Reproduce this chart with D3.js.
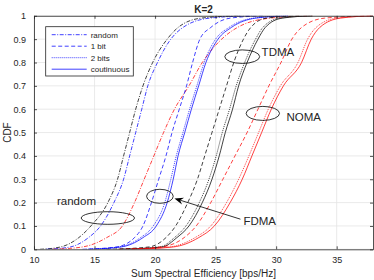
<!DOCTYPE html>
<html>
<head>
<meta charset="utf-8">
<script src="https://cdn.jsdelivr.net/npm/d3@7"></script>
<style>
  body { margin: 0; background: #fff; }
  text { font-family: "Liberation Sans", Arial, sans-serif; fill: #262626; }
</style>
</head>
<body>
<div id="chart"></div>
<script>
'use strict';

// cdf levels shared by all curves
var levels = [0, 0.01, 0.05, 0.1, 0.2, 0.3, 0.4, 0.5, 0.6, 0.7, 0.8, 0.9, 0.95, 0.99, 1];

// sum spectral efficiency (bps/Hz) reached at each level
var tdmaRandom = [10.5, 12.2, 13.7, 14.7, 16.1, 16.9, 17.4, 17.9, 18.4, 19.0, 19.8, 21.0, 21.9, 23.8, 27];
var fdmaRandom = [11, 13.0, 14.5, 15.5, 16.6, 17.4, 17.9, 18.4, 18.9, 19.4, 20.2, 21.3, 22.3, 24.5, 28];
var nomaRandom = [11.5, 14.0, 16.0, 17.3, 18.3, 19.1, 19.9, 20.7, 21.6, 22.8, 23.9, 25.5, 26.8, 29.5, 33];

var fdma1bit = [14, 16.8, 18.3, 19.0, 19.7, 20.3, 20.9, 21.4, 22.0, 22.6, 23.1, 23.7, 24.6, 26.2, 29];
var fdma2bit = [14.3, 17.0, 18.8, 19.85, 20.8, 21.3, 21.75, 22.3, 22.85, 23.45, 24.05, 25.0, 26.1, 28.1, 31];
var fdmaCont = [14.5, 17.2, 19.0, 20.1, 21.0, 21.5, 21.9, 22.45, 23.0, 23.6, 24.2, 25.2, 26.3, 28.3, 31];

var tdma1bit = [16, 19.5, 20.9, 21.7, 22.7, 23.5, 24.1, 24.7, 25.3, 25.9, 26.5, 27.3, 27.9, 29.2, 32];
var tdma2bit = [16.8, 20.4, 21.6, 22.55, 23.65, 24.45, 25.05, 25.55, 26.15, 26.7, 27.4, 28.3, 28.9, 30.3, 33];
var tdmaCont = [17, 20.6, 21.8, 22.8, 23.9, 24.7, 25.3, 25.8, 26.4, 26.9, 27.6, 28.5, 29.1, 30.5, 33];

var noma1bit = [17, 20.5, 22.4, 23.4, 24.6, 25.6, 26.6, 27.6, 28.5, 29.4, 30.4, 31.3, 32.1, 34.0, 38];
var noma2bit = [17.8, 21.2, 23.3, 24.6, 25.9, 26.9, 27.75, 28.55, 29.35, 30.35, 31.8, 32.6, 33.3, 35.0, 38];
var nomaCont = [18, 21.5, 23.6, 24.9, 26.2, 27.2, 28.0, 28.8, 29.6, 30.6, 32.1, 32.9, 33.6, 35.3, 38];

var xTicks = [10, 15, 20, 25, 30, 35];
var yTicks = [0, 0.1, 0.2, 0.3, 0.4, 0.5, 0.6, 0.7, 0.8, 0.9, 1];
var legendLabels = ['random', '1 bit', '2 bits', 'coutinuous'];

// annotations in data units: ellipse centre, radii; label anchor
var ellipses = [
  { x: 16.1, p: 0.134, rx: 2.2, rp: 0.027 },
  { x: 20.4, p: 0.227, rx: 1.1, rp: 0.03 },
  { x: 27.2, p: 0.825, rx: 1.44, rp: 0.029 },
  { x: 28.9, p: 0.582, rx: 1.38, rp: 0.03 }
];
var labels = [
  { text: 'random', x: 11.9, p: 0.19 },
  { text: 'TDMA', x: 28.8, p: 0.826 },
  { text: 'NOMA', x: 30.85, p: 0.548 },
  { text: 'FDMA', x: 27.3, p: 0.104 }
];
var arrowFrom = { x: 27.05, p: 0.129 };
var arrowTo = { x: 21.6, p: 0.218 };

var dashes = {
  random: '4,1.5,1,1.5',
  bit1: '4,2.5',
  bit2: '1,1',
  cont: null
};

var curves = [
  { v: tdmaRandom, color: '#000', dash: dashes.random },
  { v: fdmaRandom, color: '#0000ff', dash: dashes.random },
  { v: nomaRandom, color: '#ff0000', dash: dashes.random },
  { v: fdma1bit, color: '#0000ff', dash: dashes.bit1 },
  { v: fdma2bit, color: '#0000ff', dash: dashes.bit2 },
  { v: fdmaCont, color: '#0000ff', dash: dashes.cont },
  { v: tdma1bit, color: '#000', dash: dashes.bit1 },
  { v: tdma2bit, color: '#000', dash: dashes.bit2 },
  { v: tdmaCont, color: '#000', dash: dashes.cont },
  { v: noma1bit, color: '#ff0000', dash: dashes.bit1 },
  { v: noma2bit, color: '#ff0000', dash: dashes.bit2 },
  { v: nomaCont, color: '#ff0000', dash: dashes.cont }
];

var W = 374, H = 280;
var plot = { left: 34, right: 373, top: 15.8, bottom: 249.3 };

var x = d3.scaleLinear().domain([10, 38]).range([plot.left, plot.right]);
var y = d3.scaleLinear().domain([0, 1]).range([plot.bottom, plot.top]);

var svg = d3.select('#chart').append('svg')
    .attr('width', W)
    .attr('height', H);

svg.append('clipPath').attr('id', 'clip')
  .append('rect')
    .attr('x', plot.left)
    .attr('y', plot.top)
    .attr('width', plot.right - plot.left)
    .attr('height', plot.bottom - plot.top);

// grid
var grid = svg.append('g').attr('stroke', '#e4e4e4').attr('stroke-width', 0.8);
grid.selectAll('.gx').data(xTicks).enter().append('line')
    .attr('x1', function(d) { return x(d); })
    .attr('x2', function(d) { return x(d); })
    .attr('y1', plot.top).attr('y2', plot.bottom);
grid.selectAll('.gy').data(yTicks).enter().append('line')
    .attr('y1', function(d) { return y(d); })
    .attr('y2', function(d) { return y(d); })
    .attr('x1', plot.left).attr('x2', plot.right);

// curves
var line = d3.line()
    .x(function(d) { return x(d[0]); })
    .y(function(d) { return y(d[1]); })
    .curve(d3.curveMonotoneX);

var gCurves = svg.append('g').attr('clip-path', 'url(#clip)');
gCurves.selectAll('path').data(curves).enter().append('path')
    .attr('d', function(c) { return line(c.v.map(function(v, i) { return [v, levels[i]]; })); })
    .attr('fill', 'none')
    .attr('stroke', function(c) { return c.color; })
    .attr('stroke-width', 0.75)
    .attr('stroke-dasharray', function(c) { return c.dash; });

// axes, matlab box style with inward ticks
var axisColor = '#262626';
var gx = svg.append('g')
    .attr('transform', 'translate(0,' + plot.bottom + ')')
    .call(d3.axisBottom(x).tickValues(xTicks).tickSizeInner(-3).tickSizeOuter(0).tickPadding(7));
var gy = svg.append('g')
    .attr('transform', 'translate(' + plot.left + ',0)')
    .call(d3.axisLeft(y).tickValues(yTicks).tickSizeInner(-3).tickSizeOuter(0).tickPadding(8)
      .tickFormat(function(d) { return d === 0 || d === 1 ? d3.format('d')(d) : d3.format('.1f')(d); }));
svg.append('g')
    .attr('transform', 'translate(0,' + plot.top + ')')
    .call(d3.axisTop(x).tickValues(xTicks).tickSizeInner(-3).tickSizeOuter(0).tickFormat(''));
svg.append('g')
    .attr('transform', 'translate(' + plot.right + ',0)')
    .call(d3.axisRight(y).tickValues(yTicks).tickSizeInner(-3).tickSizeOuter(0).tickFormat(''));

svg.selectAll('.domain, .tick line').attr('stroke', axisColor).attr('stroke-width', 0.8);
svg.selectAll('.tick text')
    .style('font-family', '"Liberation Sans", Arial, sans-serif')
    .style('font-size', '9px')
    .attr('fill', axisColor);

// titles
svg.append('text')
    .attr('x', (plot.left + plot.right) / 2).attr('y', 12.5)
    .attr('text-anchor', 'middle')
    .style('font-size', '10px').style('font-weight', 'bold')
    .text('K=2');
svg.append('text')
    .attr('x', (plot.left + plot.right) / 2).attr('y', 277)
    .attr('text-anchor', 'middle')
    .style('font-size', '10px')
    .text('Sum Spectral Efficiency [bps/Hz]');
svg.append('text')
    .attr('transform', 'translate(10.5,' + (plot.top + plot.bottom) / 2 + ') rotate(-90)')
    .attr('text-anchor', 'middle')
    .style('font-size', '10px')
    .text('CDF');

// annotations
var gAnn = svg.append('g');
gAnn.selectAll('ellipse').data(ellipses).enter().append('ellipse')
    .attr('cx', function(d) { return x(d.x); })
    .attr('cy', function(d) { return y(d.p); })
    .attr('rx', function(d) { return x(d.x + d.rx) - x(d.x); })
    .attr('ry', function(d) { return y(0) - y(d.rp); })
    .attr('fill', 'none')
    .attr('stroke', '#000')
    .attr('stroke-width', 0.8);
gAnn.selectAll('text').data(labels).enter().append('text')
    .attr('x', function(d) { return x(d.x); })
    .attr('y', function(d) { return y(d.p); })
    .style('font-size', '11.5px')
    .attr('fill', '#000')
    .text(function(d) { return d.text; });

var ax0 = x(arrowFrom.x), ay0 = y(arrowFrom.p), ax1 = x(arrowTo.x), ay1 = y(arrowTo.p);
var ang = Math.atan2(ay1 - ay0, ax1 - ax0);
var headLen = 9, headW = 3.5, notch = 6;
function pt(along, across) {
  return [ax1 - along * Math.cos(ang) - across * Math.sin(ang),
          ay1 - along * Math.sin(ang) + across * Math.cos(ang)];
}
gAnn.append('line')
    .attr('x1', ax0).attr('y1', ay0)
    .attr('x2', pt(notch, 0)[0]).attr('y2', pt(notch, 0)[1])
    .attr('stroke', '#000').attr('stroke-width', 0.8);
gAnn.append('path')
    .attr('d', 'M' + [pt(0, 0), pt(headLen, headW), pt(notch, 0), pt(headLen, -headW)].join('L') + 'Z')
    .attr('fill', '#000');

// legend
var lg = svg.append('g').attr('transform', 'translate(45.7,26.7)');
lg.append('rect')
    .attr('width', 87.6).attr('height', 49.3)
    .attr('fill', '#fff')
    .attr('stroke', axisColor).attr('stroke-width', 0.8);
var legendDash = [dashes.random, dashes.bit1, dashes.bit2, dashes.cont];
var rows = lg.selectAll('.row').data(legendLabels).enter().append('g')
    .attr('transform', function(d, i) { return 'translate(0,' + (8 + i * 11.5) + ')'; });
rows.append('line')
    .attr('x1', 6).attr('x2', 41)
    .attr('stroke', '#0000ff').attr('stroke-width', 0.75)
    .attr('stroke-dasharray', function(d, i) { return legendDash[i]; });
rows.append('text')
    .attr('x', 45).attr('dy', '0.35em')
    .style('font-size', '8px')
    .text(function(d) { return d; });
</script>
</body>
</html>
